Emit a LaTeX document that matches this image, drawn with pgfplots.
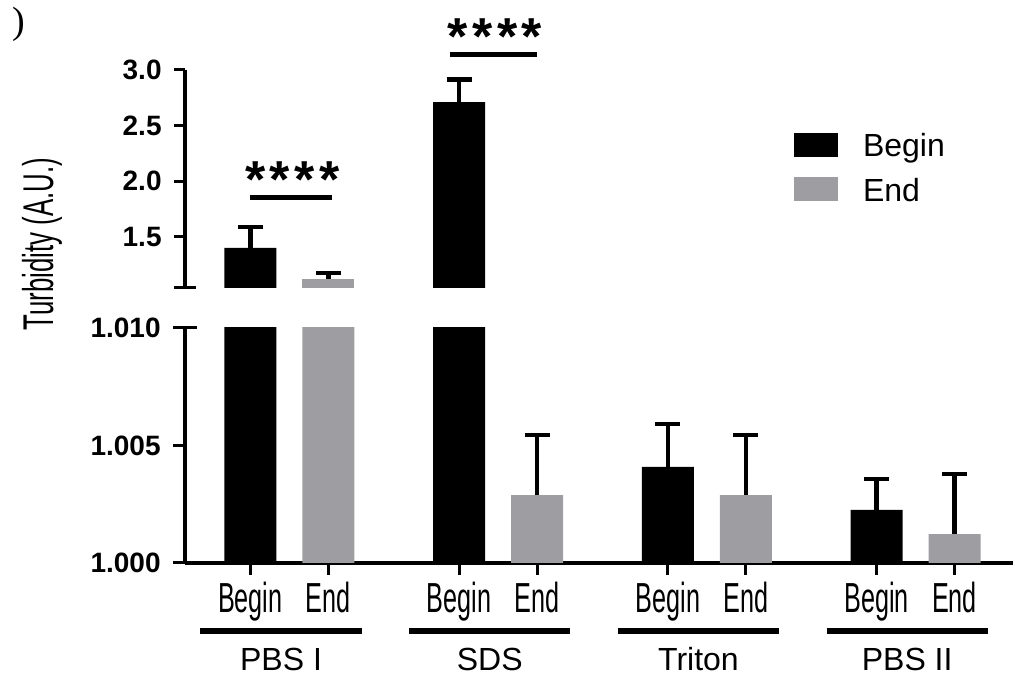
\documentclass[border=0pt]{standalone}
\usepackage{pgfplots}
\pgfplotsset{compat=1.18}
\usepackage{pgfplotstable}
\usepackage{fontspec}
\setmainfont{Liberation Sans}
\newfontfamily\condfont[FakeStretch=0.6]{Liberation Sans}
\newfontfamily\serifont{Liberation Serif}
\definecolor{bargray}{RGB}{158,158,162}

\pgfplotstableread{
x y e
0 1.400 0.188
1 2.712 0.203
2 1.00409 0.00182
3 1.00226 0.00131
}\beginT
\pgfplotstableread{
x y e
0 1.121 0.054
1 1.00289 0.00256
2 1.00289 0.00256
3 1.00123 0.00256
}\endT

\pgfplotsset{
  brk/.style={
    scale only axis, width=414pt, xmin=-0.5, xmax=3.467,
    ybar, bar width=26pt,
    clip mode=individual,
    axis line style={-, line width=2pt, black},
    tick align=outside, major tick length=5.5pt,
    tick style={line width=1.5pt, black},
    yticklabel style={font=\fontsize{14}{15}\selectfont\bfseries, inner sep=0pt, xshift=-6pt},
    scaled ticks=false,
  },
  ebar/.style={/pgfplots/error bars/.cd, y dir=plus, y explicit,
    error bar style={draw=black, line width=2.2pt},
    error mark options={draw=black, line width=2.2pt, mark size=6.25pt, rotate=90}},
}

\begin{document}
\begin{tikzpicture}
\useasboundingbox (0,0) rectangle (507.5pt,339pt);
\node[font=\serifont\fontsize{19}{19}\selectfont] at (9.5pt,327pt) {)};
\node[rotate=90, anchor=base, font=\condfont\fontsize{21.5}{21.5}\selectfont] at (26.5pt,217pt) {Turbidity (A.U.)};

% lower segment (values shown as (y-1)*1000, labelled as 1.000 ... 1.010)
\begin{axis}[brk, at={(92.5pt,57.5pt)}, anchor=south west, height=117.5pt,
  ymin=0, ymax=10,
  axis x line*=bottom, axis y line*=left,
  ytick={0,5}, yticklabels={1.000,1.005},
  extra y ticks={10}, extra y tick labels={1.010},
  extra y tick style={tick align=center, major tick length=12pt},
  xtick={-0.1869,0.1869,0.8131,1.1869,1.8131,2.1869,2.8131,3.1869},
  xticklabels={Begin,End,Begin,End,Begin,End,Begin,End},
  xticklabel style={font=\condfont\fontsize{21}{21}\selectfont, inner sep=0pt, anchor=north, yshift=-3.5pt},
  major tick length=6pt,
]
\addplot[fill=black, draw=none, bar shift=-19.5pt, y filter/.expression={min((y-1)*1000,12)}, ebar]
  table[x=x, y=y, y error plus expr=1000*\thisrow{e}] {\beginT};
\addplot[fill=bargray, draw=none, bar shift=19.5pt, y filter/.expression={min((y-1)*1000,12)}, ebar]
  table[x=x, y=y, y error plus expr=1000*\thisrow{e}] {\endT};
\draw[line width=3pt] ([yshift=-34.25pt]axis cs:-0.426,0) -- ([yshift=-34.25pt]axis cs:0.346,0);
\draw[line width=3pt] ([yshift=-34.25pt]axis cs:0.574,0) -- ([yshift=-34.25pt]axis cs:1.346,0);
\draw[line width=3pt] ([yshift=-34.25pt]axis cs:1.574,0) -- ([yshift=-34.25pt]axis cs:2.346,0);
\draw[line width=3pt] ([yshift=-34.25pt]axis cs:2.574,0) -- ([yshift=-34.25pt]axis cs:3.346,0);
\node[anchor=base, font=\fontsize{16}{16}\selectfont] at ([yshift=-53.5pt]axis cs:-0.04,0) {PBS I};
\node[anchor=base, font=\fontsize{16}{16}\selectfont] at ([yshift=-53.5pt]axis cs:0.96,0) {SDS};
\node[anchor=base, font=\fontsize{16}{16}\selectfont] at ([yshift=-53.5pt]axis cs:1.96,0) {Triton};
\node[anchor=base, font=\fontsize{16}{16}\selectfont] at ([yshift=-53.5pt]axis cs:2.96,0) {PBS II};
\end{axis}

% upper segment
\begin{axis}[brk, at={(92.5pt,195pt)}, anchor=south west, height=109pt,
  ymin=1.04, ymax=3.0,
  axis x line=none, axis y line*=left, xtick=\empty,
  ytick={1.5,2,2.5,3}, yticklabels={1.5,2.0,2.5,3.0},
  extra y ticks={1.04}, extra y tick labels={},
  extra y tick style={tick align=center, major tick length=11pt},
  legend style={at={(0.7355,0.711)}, anchor=north west, draw=none, fill=none,
    inner sep=0pt, outer sep=0pt, row sep=8.6pt, column sep=12.5pt,
    font=\fontsize{16}{16}\selectfont, nodes={inner sep=0pt, anchor=base west}},
  legend cell align=left,
  legend image code/.code={\fill (0pt,0pt) rectangle (22pt,12pt);},
]
\addplot[fill=black, draw=none, bar shift=-19.5pt, restrict y to domain=1.03:5, ebar] table[x=x, y=y, y error plus=e] {\beginT};
\addlegendentry{Begin}
\addplot[fill=bargray, draw=none, bar shift=19.5pt, restrict y to domain=1.03:5, ebar] table[x=x, y=y, y error plus=e] {\endT};
\addlegendentry{End}
\draw[line width=2.5pt] (axis cs:-0.189,1.854) -- (axis cs:0.204,1.854);
\draw[line width=2.5pt] (axis cs:0.769,3.140) -- (axis cs:1.186,3.140);
\node[anchor=base, font=\fontsize{26}{26}\selectfont\bfseries] at ([yshift=-0.25pt]axis cs:0.0144,1.854) {*\kern2.2pt*\kern2.2pt*\kern2.2pt*};
\node[anchor=base, font=\fontsize{26}{26}\selectfont\bfseries] at ([yshift=-0.25pt]axis cs:0.9848,3.140) {*\kern2.2pt*\kern2.2pt*\kern2.2pt*};
\end{axis}
\end{tikzpicture}
\end{document}
